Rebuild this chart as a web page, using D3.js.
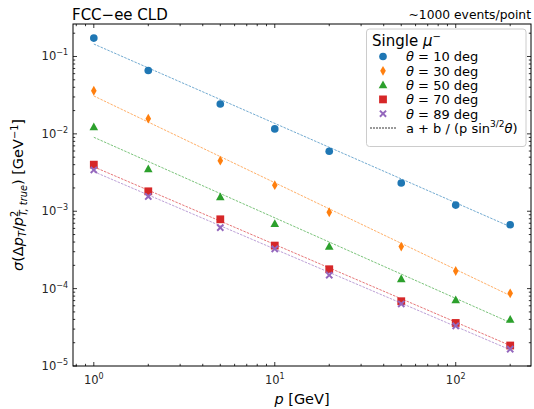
<!DOCTYPE html>
<html><head><meta charset="utf-8">
<script src="https://cdn.jsdelivr.net/npm/d3@7"></script>
<style>body{margin:0;background:#fff}svg{font-family:"DejaVu Sans",sans-serif}</style>
</head><body><svg id="c" width="534" height="409"></svg>
<script>
// ---- data ----
const momenta = [1, 2, 5, 10, 20, 50, 100, 200];
const seriesNames = ["10", "30", "50", "70", "89"];
const theta10 = [0.173, 0.066, 0.0243, 0.0116, 0.00596, 0.00232, 0.0012, 0.00067];
const theta30 = [0.0361, 0.0157, 0.00451, 0.00217, 0.00097, 0.000349, 0.000169, 8.7e-5];
const theta50 = [0.0122, 0.00349, 0.00152, 0.000686, 0.000349, 0.000133, 7.08e-5, 3.96e-5];
const theta70 = [0.0040, 0.00181, 0.000787, 0.00036, 0.000178, 6.87e-5, 3.6e-5, 1.84e-5];
const theta89 = [0.00342, 0.00155, 0.000614, 0.000326, 0.000149, 6.34e-5, 3.3e-5, 1.65e-5];
const fitMomenta = [1, 200];
const fit10 = [0.145, 0.000632];
const fit30 = [0.0309, 8.13e-5];
const fit50 = [0.00904, 3.64e-5];
const fit70 = [0.00375, 1.84e-5];
const fit89 = [0.00325, 1.62e-5];
const xTicks = [1, 10, 100];
const xTickExp = ["0", "1", "2"];
const yTicks = [1e-5, 1e-4, 1e-3, 1e-2, 1e-1];
const yTickExp = ["\u22125", "\u22124", "\u22123", "\u22122", "\u22121"];

const colors = ["#1f77b4", "#ff7f0e", "#2ca02c", "#d62728", "#9467bd"];
const values = [theta10, theta30, theta50, theta70, theta89];
const fits = [fit10, fit30, fit50, fit70, fit89];
const markers = ["circle", "thindiamond", "triangle", "square", "xfill"];

// ---- layout ----
const L = 73, R = 531, T = 24, B = 366;
const svg = d3.select("#c");
const x = d3.scaleLog().domain([Math.pow(10, -0.115), Math.pow(10, 2.416)]).range([L, R]);
const y = d3.scaleLog().domain([1e-5, Math.pow(10, -0.58)]).range([B, T]);

function markerPath(type) {
  switch (type) {
    case "circle": return d3.symbol(d3.symbolCircle, 46)();
    case "thindiamond": return "M0,-4.9L2.8,0L0,4.9L-2.8,0Z";
    case "triangle": return "M0,-4.7L4.3,3.1L-4.3,3.1Z";
    case "square": return "M-3.9,-3.9H3.9V3.9H-3.9Z";
    case "xfill": {
      const a = 3.8, w = 1.4;
      return `M${-a},${-a + w}L${-a + w},${-a}L0,${-w}L${a - w},${-a}L${a},${-a + w}L${w},0L${a},${a - w}L${a - w},${a}L0,${w}L${-a + w},${a}L${-a},${a - w}L${-w},0Z`;
    }
  }
}

// clip
svg.append("defs").append("clipPath").attr("id", "clip")
  .append("rect").attr("x", L).attr("y", T).attr("width", R - L).attr("height", B - T);

const plot = svg.append("g").attr("clip-path", "url(#clip)");
const line = d3.line().x(d => x(d[0])).y(d => y(d[1]));

values.forEach((vals, i) => {
  const fd = fitMomenta.map((p, j) => [p, fits[i][j]]);
  plot.append("path").attr("d", line(fd)).attr("fill", "none")
    .attr("stroke", colors[i]).attr("stroke-width", 0.9).attr("stroke-opacity", 0.7)
    .attr("stroke-dasharray", "2.5,1.2");
  plot.selectAll(null).data(momenta.map((p, j) => [p, vals[j]])).enter()
    .append("path").attr("d", markerPath(markers[i]))
    .attr("transform", d => `translate(${x(d[0])},${y(d[1])})`)
    .attr("fill", colors[i]);
});

// frame
svg.append("rect").attr("x", L).attr("y", T).attr("width", R - L).attr("height", B - T)
  .attr("fill", "none").attr("stroke", "#000").attr("stroke-width", 1);

// ticks
const axG = svg.append("g").attr("stroke", "#000").attr("stroke-width", 0.8);
function minorTicks(domain) {
  const out = [];
  const lo = Math.floor(Math.log10(domain[0])), hi = Math.ceil(Math.log10(domain[1]));
  for (let e = lo; e <= hi; e++) for (let m = 1; m < 10; m++) {
    const v = m * Math.pow(10, e);
    if (v >= domain[0] && v <= domain[1]) out.push({v, major: m === 1});
  }
  return out;
}
minorTicks(x.domain()).forEach(t => {
  const len = t.major ? 4 : 2.2, px = x(t.v);
  axG.append("line").attr("x1", px).attr("x2", px).attr("y1", B).attr("y2", B - len);
  axG.append("line").attr("x1", px).attr("x2", px).attr("y1", T).attr("y2", T + len);
});
minorTicks(y.domain()).forEach(t => {
  const len = t.major ? 4 : 2.2, py = y(t.v);
  axG.append("line").attr("y1", py).attr("y2", py).attr("x1", L).attr("x2", L + len);
  axG.append("line").attr("y1", py).attr("y2", py).attr("x1", R).attr("x2", R - len);
});

// tick labels
xTicks.forEach((v, i) => {
  const t = svg.append("text").attr("x", x(v)).attr("y", 384).attr("text-anchor", "middle")
    .attr("font-size", 11.5).attr("fill", "#262626");
  t.append("tspan").text("10");
  t.append("tspan").attr("dy", -5).attr("font-size", 8).text(xTickExp[i]);
});
yTicks.forEach((v, i) => {
  const t = svg.append("text").attr("x", 68).attr("y", y(v) + 4).attr("text-anchor", "end")
    .attr("font-size", 11.5).attr("fill", "#262626");
  t.append("tspan").text("10");
  t.append("tspan").attr("dy", -5).attr("font-size", 8).text(yTickExp[i]);
});

// titles
svg.append("text").attr("x", 72).attr("y", 19.5).attr("font-size", 15).text("FCC\u2212ee CLD");
svg.append("text").attr("x", 531).attr("y", 18.5).attr("font-size", 12.3).attr("text-anchor", "end").text("~1000 events/point");

// x label
const xl = svg.append("text").attr("x", 302).attr("y", 404).attr("text-anchor", "middle").attr("font-size", 14.5);
xl.append("tspan").attr("font-style", "italic").text("p");
xl.append("tspan").text(" [GeV]");

// y label
const yl = svg.append("text").attr("transform", "translate(23,195) rotate(-90)").attr("text-anchor", "middle").attr("font-size", 14.5);
yl.append("tspan").attr("font-style", "italic").text("\u03c3");
yl.append("tspan").text("(\u0394");
yl.append("tspan").attr("font-style", "italic").text("p");
yl.append("tspan").attr("font-style", "italic").attr("font-size", 9.8).attr("dy", 3).text("T");
yl.append("tspan").attr("dy", -3).text("/");
yl.append("tspan").attr("font-style", "italic").text("p");
yl.append("tspan").attr("font-size", 9.8).attr("dy", -5.5).text("2");
yl.append("tspan").attr("font-style", "italic").attr("font-size", 9.8).attr("dx", -5.5).attr("dy", 9).text("T, true");
yl.append("tspan").attr("dy", -3.5).text(") [GeV");
yl.append("tspan").attr("font-size", 9.8).attr("dy", -5.5).text("\u22121");
yl.append("tspan").attr("dy", 5.5).text("]");

// legend
const lg = svg.append("g");
lg.append("rect").attr("x", 366.5).attr("y", 29).attr("width", 159.5).attr("height", 117.5)
  .attr("rx", 3).attr("fill", "#fff").attr("fill-opacity", 0.85).attr("stroke", "#cccccc").attr("stroke-width", 1);
const lt = lg.append("text").attr("x", 372).attr("y", 46).attr("font-size", 15);
lt.append("tspan").text("Single ");
lt.append("tspan").attr("font-style", "italic").text("\u03bc");
lt.append("tspan").attr("font-size", 10).attr("dy", -6.5).text("\u2212");
const rowY = [56.5, 70.8, 85.1, 99.4, 113.7, 128];
seriesNames.forEach((n, i) => {
  lg.append("path").attr("d", markerPath(markers[i])).attr("transform", `translate(383,${rowY[i]})`).attr("fill", colors[i]);
  const t = lg.append("text").attr("x", 406).attr("y", rowY[i] + 4.8).attr("font-size", 13);
  t.append("tspan").attr("font-style", "italic").text("\u03b8");
  t.append("tspan").text(` = ${n} deg`);
});
lg.append("line").attr("x1", 370).attr("x2", 397).attr("y1", rowY[5]).attr("y2", rowY[5])
  .attr("stroke", "#000").attr("stroke-width", 0.8).attr("stroke-dasharray", "2,1");
const ft = lg.append("text").attr("x", 406).attr("y", rowY[5] + 4.8).attr("font-size", 13);
ft.append("tspan").text("a + b / (p sin");
ft.append("tspan").attr("font-size", 9).attr("dy", -5.5).text("3/2");
ft.append("tspan").attr("font-style", "italic").attr("dy", 5.5).text("\u03b8");
ft.append("tspan").text(")");
</script></body></html>
